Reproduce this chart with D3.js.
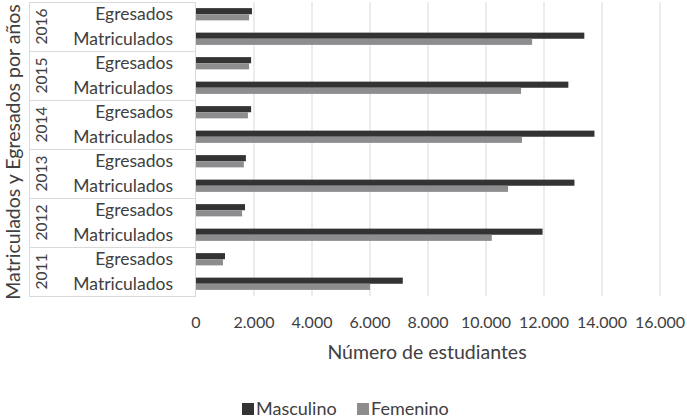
<!DOCTYPE html>
<html>
<head>
<meta charset="utf-8">
<script src="https://cdn.jsdelivr.net/npm/d3@7"></script>
<style>
  body { margin: 0; background: #fff; }
  text { font-family: Lato, "Open Sans", sans-serif; fill: #404040; }
</style>
</head>
<body>
<div id="chart"></div>
<script>
// chart values
const years = ["2016", "2015", "2014", "2013", "2012", "2011"];
const categories = ["Egresados", "Matriculados"];
const series = ["Masculino", "Femenino"];
const masculinoEgresados = [1930, 1900, 1900, 1720, 1690, 1000];
const femeninoEgresados = [1830, 1830, 1790, 1650, 1590, 930];
const masculinoMatriculados = [13390, 12840, 13740, 13050, 11950, 7130];
const femeninoMatriculados = [11590, 11210, 11240, 10760, 10200, 6000];
const xTicks = [0, 2000, 4000, 6000, 8000, 10000, 12000, 14000, 16000];

const width = 687, height = 419;
const colors = { Masculino: "#333333", Femenino: "#8d8d8f" };

// build one row per year/category
const rows = [];
years.forEach((yr, i) => {
  categories.forEach(cat => {
    const m = cat === "Egresados" ? masculinoEgresados[i] : masculinoMatriculados[i];
    const f = cat === "Egresados" ? femeninoEgresados[i] : femeninoMatriculados[i];
    rows.push({ key: yr + "-" + cat, year: yr, cat, values: { Masculino: m, Femenino: f } });
  });
});

const svg = d3.select("#chart").append("svg")
  .attr("width", width)
  .attr("height", height);

const x = d3.scaleLinear().domain([0, 16000]).range([196, 660]);
const y = d3.scaleBand().domain(rows.map(d => d.key)).range([2, 296]).paddingInner(0.5).paddingOuter(0.25);
const ySub = d3.scaleBand().domain(series).range([0, y.bandwidth()]);

// gridlines
svg.append("g")
  .selectAll("line")
  .data(xTicks.slice(1))
  .join("line")
  .attr("x1", d => x(d)).attr("x2", d => x(d))
  .attr("y1", 2).attr("y2", 296)
  .attr("stroke", "#d9d9d9").attr("stroke-width", 1);

// category table frame
const groupH = (296 - 2) / years.length;
const frame = svg.append("g").attr("stroke", "#d9d9d9").attr("stroke-width", 1);
frame.append("line").attr("x1", 29.5).attr("x2", 29.5).attr("y1", 2).attr("y2", 296);
frame.append("line").attr("x1", 195.5).attr("x2", 195.5).attr("y1", 2).attr("y2", 296);
frame.selectAll(".sep")
  .data(d3.range(years.length + 1))
  .join("line")
  .attr("x1", 29).attr("x2", 196)
  .attr("y1", i => Math.round(2 + i * groupH) + 0.5)
  .attr("y2", i => Math.round(2 + i * groupH) + 0.5);

// bars
const rowG = svg.append("g")
  .selectAll("g")
  .data(rows)
  .join("g")
  .attr("transform", d => `translate(0,${y(d.key)})`);

rowG.selectAll("rect")
  .data(d => series.map(s => ({ s, v: d.values[s] })))
  .join("rect")
  .attr("x", x(0))
  .attr("y", d => ySub(d.s))
  .attr("width", d => x(d.v) - x(0))
  .attr("height", ySub.bandwidth())
  .attr("fill", d => colors[d.s]);

// category labels
svg.append("g")
  .selectAll("text")
  .data(rows)
  .join("text")
  .attr("x", 173)
  .attr("y", d => y(d.key) + y.bandwidth() / 2)
  .attr("dy", "0.35em")
  .attr("text-anchor", "end")
  .style("font-size", "17.5px")
  .text(d => d.cat);

// year labels
svg.append("g")
  .selectAll("text")
  .data(years)
  .join("text")
  .attr("transform", (d, i) => `translate(42,${2 + groupH * (i + 0.5)}) rotate(-90)`)
  .attr("dy", "0.35em")
  .attr("text-anchor", "middle")
  .style("font-size", "15.5px")
  .text(d => d);

// x tick labels
const fmt = d3.formatLocale({ decimal: ",", thousands: ".", grouping: [3], currency: ["", ""] }).format(",");
svg.append("g")
  .selectAll("text")
  .data(xTicks)
  .join("text")
  .attr("x", d => x(d))
  .attr("y", 322)
  .attr("dy", "0.35em")
  .attr("text-anchor", "middle")
  .style("font-size", "16px")
  .text(d => fmt(d));

// axis titles
svg.append("text")
  .attr("x", 427).attr("y", 352)
  .attr("dy", "0.35em")
  .attr("text-anchor", "middle")
  .style("font-size", "19.5px")
  .text("Número de estudiantes");

svg.append("text")
  .attr("transform", "translate(13,152) rotate(-90)")
  .attr("dy", "0.35em")
  .attr("text-anchor", "middle")
  .style("font-size", "19.5px")
  .text("Matriculados y Egresados por años");

// legend
const legend = svg.append("g")
  .selectAll("g")
  .data(series)
  .join("g")
  .attr("transform", (d, i) => `translate(${i === 0 ? 242 : 357},403)`);
legend.append("rect").attr("width", 12).attr("height", 12).attr("fill", d => colors[d]);
legend.append("text")
  .attr("x", 14).attr("y", 6)
  .attr("dy", "0.35em")
  .style("font-size", "18px")
  .text(d => d);
</script>
</body>
</html>
